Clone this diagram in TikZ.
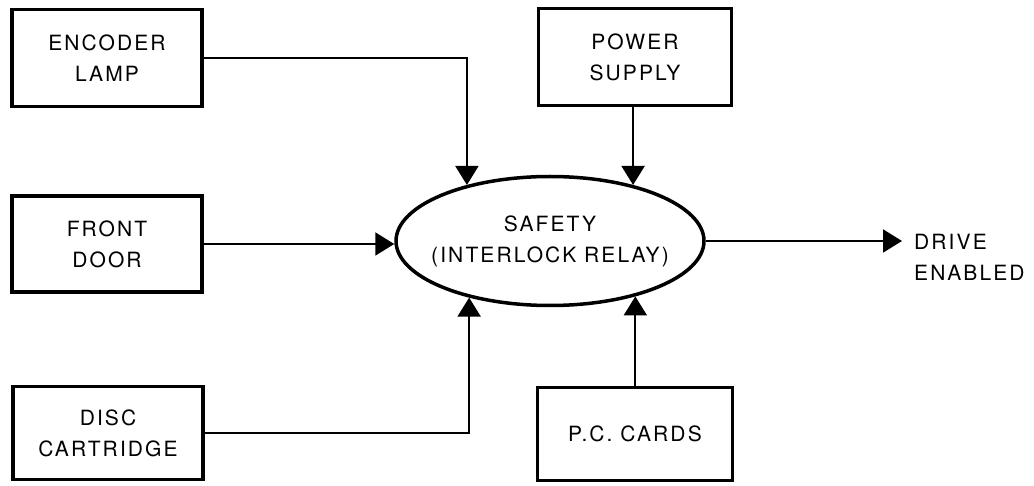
\documentclass[tikz,border=0pt]{standalone}
\usepackage{fontspec}
\setmainfont{TeX Gyre Heros}[LetterSpace=10]
\usetikzlibrary{arrows.meta,shapes.geometric}
\newcommand\diagfont{\fontsize{21}{31}\selectfont}

\begin{document}
\begin{tikzpicture}[x=1pt,y=-1pt,block/.style={draw,line width=3.5pt,minimum width=190pt,minimum height=97pt,align=center,font=\diagfont},relay/.style={draw,ellipse,line width=3.5pt,minimum width=308pt,minimum height=129pt},link/.style={line width=2pt,-{Triangle[length=19pt,width=23pt]}}]
 \useasboundingbox (0,0) rectangle (1034,486);
 \node[block] (enc) at (107,58) {ENCODER\\LAMP};
 \node[block,minimum height=96pt] (door) at (107,244) {FRONT\\DOOR};
 \node[block,minimum height=93pt] (disc) at (108,433) {DISC\\CARTRIDGE};
 \node[block,minimum width=193pt] (power) at (635,57) {POWER\\SUPPLY};
 \node[block,minimum width=195pt,minimum height=93pt] (cards) at (635,434) {P.C. CARDS};
 \node[relay] (relay) at (550,241) {};
 \node[align=center,font=\diagfont] (relaytext) at (relay.center) {SAFETY\\(INTERLOCK RELAY)};
 \node[anchor=west,align=left,inner xsep=12pt,font=\diagfont] (drive) at (902,257) {DRIVE\\ENABLED};
 \draw[link] (enc.east) -| (relay.146);
 \draw[link] (door.east) -- (door.east -| relay.west);
 \draw[link] (disc.east) -| (relay.215);
 \draw[link] (power.south -| relay.34) -- (relay.34);
 \draw[link] (cards.north -| relay.327) -- (relay.327);
 \draw[link] (relay.east) -- (relay.east -| drive.west);
\end{tikzpicture}
\end{document}
